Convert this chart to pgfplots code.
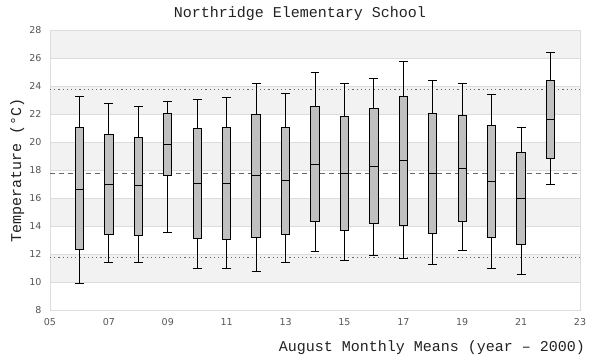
\documentclass[border=0pt]{standalone}
\usepackage{fontspec}
\setmainfont{DejaVu Sans}
\newfontfamily\monofont{Liberation Mono}
\usepackage{pgfplots}
\pgfplotsset{compat=1.18}
\usepgfplotslibrary{statistics}
\definecolor{band}{HTML}{F2F2F2}
\definecolor{gridc}{HTML}{DCDCDC}
\definecolor{boxc}{HTML}{C0C0C0}
\definecolor{refc}{HTML}{666666}
\definecolor{tickc}{HTML}{555555}
\definecolor{txtc}{HTML}{222222}
\newcommand{\bx}[6]{\addplot[boxplot prepared={draw position=#1, lower whisker=#2, lower quartile=#3, median=#4, upper quartile=#5, upper whisker=#6}, draw=black, fill=boxc, line width=1bp, solid] coordinates {};}
\newcommand{\bandp}[2]{\addplot[fill=band, draw=none, on layer=axis background] coordinates {(5,#1) (23,#1) (23,#2) (5,#2)};}
\begin{document}
\begin{tikzpicture}
\begin{axis}[
  set layers,
  scale only axis, width=530bp, height=280bp,
  xmin=5, xmax=23, ymin=8, ymax=28,
  xtick={5,7,...,23}, xticklabels={05,07,09,11,13,15,17,19,21,23},
  ytick={8,10,...,28},
  ymajorgrids, grid style={gridc, line width=0.8bp},
  axis line style={gridc, line width=0.8bp},
  major tick length=0pt,
  tick label style={font=\fontsize{9.5bp}{11bp}\selectfont, text=tickc},
  /pgf/number format/assume math mode=true,
  yticklabel style={xshift=-5bp},
  xticklabel style={yshift=-5bp},
  boxplot/draw direction=y,
  boxplot/box extend=0.28, boxplot/whisker extend=0.3,
]
\bandp{26}{28}
\bandp{22}{24}
\bandp{18}{20}
\bandp{14}{16}
\bandp{10}{12}
\addplot[refc, line width=1bp, dash pattern=on 1.2bp off 3bp] coordinates {(5,23.76) (23,23.76)};
\addplot[refc, line width=1bp, dash pattern=on 5bp off 4bp] coordinates {(5,17.76) (23,17.76)};
\addplot[refc, line width=1bp, dash pattern=on 1.2bp off 3bp] coordinates {(5,11.76) (23,11.76)};
\bx{6}{9.90}{12.29}{16.62}{21.05}{23.24}
\bx{7}{11.40}{13.40}{16.98}{20.55}{22.76}
\bx{8}{11.40}{13.33}{16.86}{20.33}{22.55}
\bx{9}{13.55}{17.62}{19.83}{22.05}{22.90}
\bx{10}{10.98}{13.12}{17.05}{20.98}{23.05}
\bx{11}{10.98}{13.05}{17.05}{21.05}{23.19}
\bx{12}{10.76}{13.19}{17.62}{21.98}{24.19}
\bx{13}{11.40}{13.40}{17.26}{21.05}{23.48}
\bx{14}{12.19}{14.33}{18.40}{22.55}{24.98}
\bx{15}{11.55}{13.69}{17.76}{21.83}{24.19}
\bx{16}{11.90}{14.19}{18.26}{22.40}{24.55}
\bx{17}{11.69}{14.05}{18.69}{23.24}{25.74}
\bx{18}{11.26}{13.48}{17.76}{22.05}{24.38}
\bx{19}{12.26}{14.33}{18.12}{21.90}{24.19}
\bx{20}{10.98}{13.19}{17.19}{21.19}{23.40}
\bx{21}{10.55}{12.69}{15.98}{19.26}{21.05}
\bx{22}{16.98}{18.83}{21.62}{24.40}{26.40}
\end{axis}
\node[font=\monofont\fontsize{15bp}{18bp}\selectfont, anchor=base, text=txtc, inner sep=0pt] at (250bp,292bp) {Northridge Elementary School};
\node[font=\monofont\fontsize{15bp}{18bp}\selectfont, anchor=base east, text=txtc, inner sep=0pt] at (535bp,-41bp) {August Monthly Means (year – 2000)};
\node[font=\monofont\fontsize{15bp}{18bp}\selectfont, anchor=base, text=txtc, inner sep=0pt, rotate=90] at (-29bp,140bp) {Temperature (°C)};
\path (-50bp,-50bp) rectangle (550bp,310bp);
\end{tikzpicture}
\end{document}
